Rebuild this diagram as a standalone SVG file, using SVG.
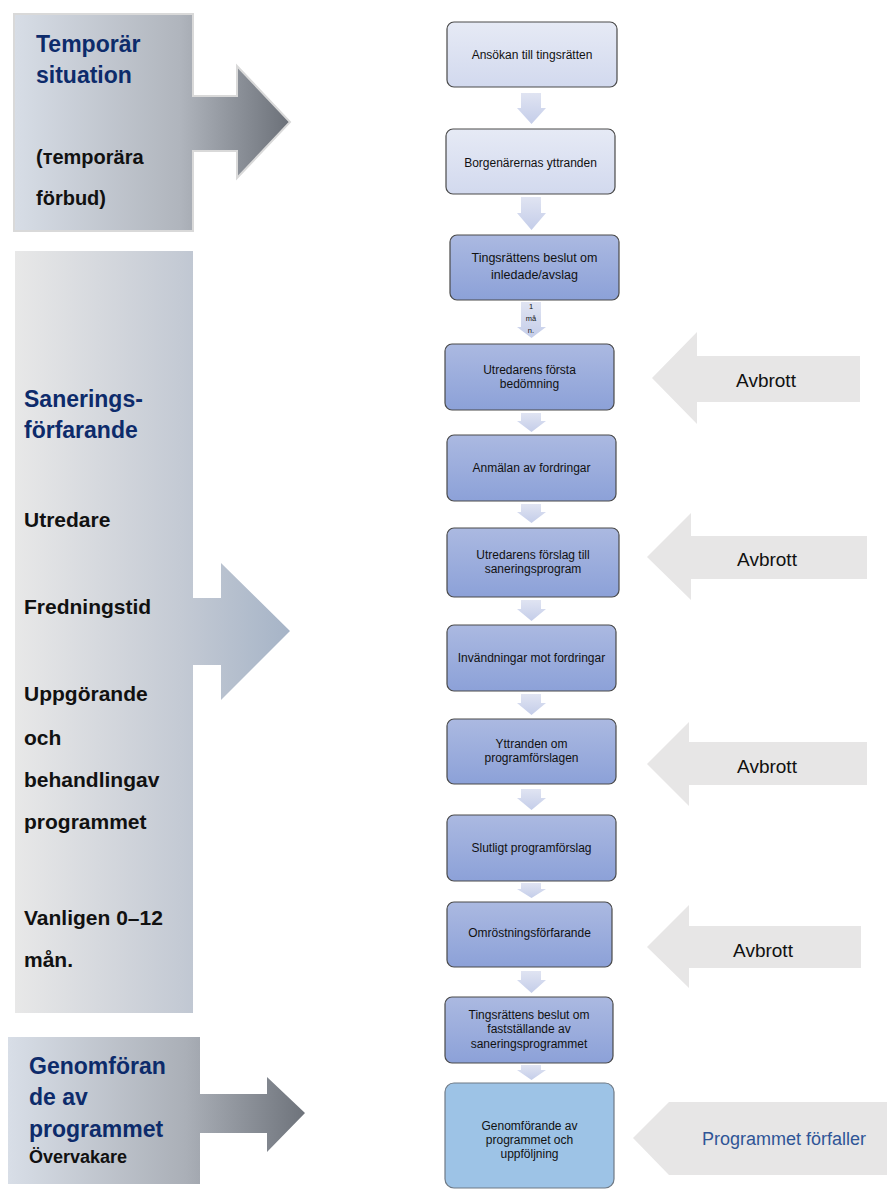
<svg xmlns="http://www.w3.org/2000/svg" width="887" height="1191" viewBox="0 0 887 1191">
<defs>
<linearGradient id="gTemp" x1="0" y1="0" x2="1" y2="0"><stop offset="0" stop-color="#d7dde6"/><stop offset="0.6" stop-color="#b0b5bd"/><stop offset="1" stop-color="#6b7078"/></linearGradient>
<linearGradient id="gSan" x1="0" y1="0" x2="1" y2="0"><stop offset="0" stop-color="#e8e8e8"/><stop offset="0.6" stop-color="#c4cad4"/><stop offset="1" stop-color="#a6b4c7"/></linearGradient>
<linearGradient id="gGen" x1="0" y1="0" x2="1" y2="0"><stop offset="0" stop-color="#d8dee7"/><stop offset="0.6" stop-color="#aaafb7"/><stop offset="1" stop-color="#6e737b"/></linearGradient>
<linearGradient id="gLight" x1="0" y1="0" x2="0" y2="1"><stop offset="0" stop-color="#e6eaf5"/><stop offset="1" stop-color="#d2d9ee"/></linearGradient>
<linearGradient id="gBlue" x1="0" y1="0" x2="0" y2="1"><stop offset="0" stop-color="#abb9e1"/><stop offset="1" stop-color="#8ca1d8"/></linearGradient>
<linearGradient id="gDown" x1="0" y1="0" x2="0" y2="1"><stop offset="0" stop-color="#e0e4f2"/><stop offset="1" stop-color="#c4cde9"/></linearGradient>
</defs>
<style>
.lt{fill:url(#gLight);stroke:#4a4a4a;stroke-width:1.2}
.bl{fill:url(#gBlue);stroke:#4a4a4a;stroke-width:1.2}
.lb{fill:#9dc3e6;stroke:#6f7a86;stroke-width:1.2}
.bt{font-family:"Liberation Sans",Arial,sans-serif;font-size:12px;fill:#111;text-anchor:middle}
.hd{font-family:"Liberation Sans",Arial,sans-serif;font-size:23px;font-weight:bold;fill:#0d2b6b}
.sb{font-family:"Liberation Sans",Arial,sans-serif;font-size:21px;font-weight:bold;fill:#111}
.dn{fill:url(#gDown)}
.ra{fill:#e7e6e6}
.av{font-family:"Liberation Sans",Arial,sans-serif;font-size:19px;fill:#111;text-anchor:middle}
</style>

<g id="phase-temporar">
<path d="M14,14 H193 V96 H237 V66 L290,122 L237,178 V151 H193 V231 H14 Z" fill="url(#gTemp)" stroke="#d9d9d9" stroke-width="2"/>
<text class="hd" x="36" y="52">Temporär</text>
<text class="hd" x="36" y="83">situation</text>
<text class="sb" x="36" y="164" style="font-size:20px">(тemporära</text>
<text class="sb" x="36" y="205" style="font-size:20px">förbud)</text>
</g>

<g id="phase-sanering">
<path d="M15,251 H193 V598 H221 V563 L290,631 L221,700 V665 H193 V1013 H15 Z" fill="url(#gSan)"/>
<text class="hd" x="24" y="407">Sanerings-</text>
<text class="hd" x="24" y="438">förfarande</text>
<text class="sb" x="24" y="527">Utredare</text>
<text class="sb" x="24" y="614">Fredningstid</text>
<text class="sb" x="24" y="701">Uppgörande</text>
<text class="sb" x="24" y="745">och</text>
<text class="sb" x="24" y="787">behandlingav</text>
<text class="sb" x="24" y="829">programmet</text>
<text class="sb" x="24" y="925">Vanligen 0–12</text>
<text class="sb" x="24" y="967">mån.</text>
</g>

<g id="phase-genomforande">
<path d="M8,1037 H200 V1094 H267 V1077 L305,1113 L267,1152 V1133 H200 V1184 H8 Z" fill="url(#gGen)"/>
<text class="hd" x="29" y="1074">Genomföran</text>
<text class="hd" x="29" y="1105">de av</text>
<text class="hd" x="29" y="1137">programmet</text>
<text class="sb" x="29" y="1163" style="font-size:18px">Övervakare</text>
</g>

<g id="n1"><rect class="lt" x="447" y="22" width="170" height="65" rx="7"/><text class="bt" x="532" y="59">Ansökan till tingsrätten</text></g>
<g id="n2"><rect class="lt" x="446" y="129" width="169" height="65" rx="7"/><text class="bt" x="530.5" y="167">Borgenärernas yttranden</text></g>
<g id="n3"><rect class="bl" x="450" y="235" width="169" height="65" rx="7"/><text class="bt" x="534.5" y="262" style="font-size:12.5px">Tingsrättens beslut om</text><text class="bt" x="534.5" y="279" style="font-size:12.5px">inledade/avslag</text></g>
<g id="n4"><rect class="bl" x="445" y="344" width="169" height="66" rx="7"/><text class="bt" x="529.5" y="374">Utredarens första</text><text class="bt" x="529.5" y="388">bedömning</text></g>
<g id="n5"><rect class="bl" x="447" y="435" width="169" height="66" rx="7"/><text class="bt" x="531.5" y="472">Anmälan av fordringar</text></g>
<g id="n6"><rect class="bl" x="447" y="528" width="172" height="69" rx="7"/><text class="bt" x="533" y="559">Utredarens förslag till</text><text class="bt" x="533" y="573">saneringsprogram</text></g>
<g id="n7"><rect class="bl" x="447" y="625" width="169" height="66" rx="7"/><text class="bt" x="531.5" y="662">Invändningar mot fordringar</text></g>
<g id="n8"><rect class="bl" x="447" y="719" width="169" height="65" rx="7"/><text class="bt" x="531.5" y="748">Yttranden om</text><text class="bt" x="531.5" y="762">programförslagen</text></g>
<g id="n9"><rect class="bl" x="447" y="815" width="169" height="66" rx="7"/><text class="bt" x="531.5" y="852">Slutligt programförslag</text></g>
<g id="n10"><rect class="bl" x="447" y="902" width="165" height="65" rx="7"/><text class="bt" x="529.5" y="937">Omröstningsförfarande</text></g>
<g id="n11"><rect class="bl" x="445" y="997" width="168" height="66" rx="7"/><text class="bt" x="529" y="1019">Tingsrättens beslut om</text><text class="bt" x="529" y="1033">fastställande av</text><text class="bt" x="529" y="1048">saneringsprogrammet</text></g>
<g id="n12"><rect class="lb" x="445" y="1083" width="169" height="105" rx="9"/><text class="bt" x="529.5" y="1130">Genomförande av</text><text class="bt" x="529.5" y="1144">programmet och</text><text class="bt" x="529.5" y="1158">uppföljning</text></g>

<g id="connectors">
<path class="dn" d="M521,93 H541 V108 H546 L531.5,124 L517,108 H521 Z"/>
<path class="dn" d="M521,197 H541 V213 H546 L531.5,230 L517,213 H521 Z"/>
<path class="dn" d="M521,302 H541 V327 H546 L531.5,338 L517,327 H521 Z"/>
<text x="531" y="309" style="font-family:'Liberation Sans',Arial,sans-serif;font-size:7.5px;fill:#111;text-anchor:middle">1</text>
<text x="531" y="321" style="font-family:'Liberation Sans',Arial,sans-serif;font-size:7.5px;fill:#111;text-anchor:middle">må</text>
<text x="531" y="333" style="font-family:'Liberation Sans',Arial,sans-serif;font-size:7.5px;fill:#111;text-anchor:middle">n.</text>
<path class="dn" d="M521,413 H541 V421 H546 L531.5,432 L517,421 H521 Z"/>
<path class="dn" d="M521,504 H541 V512 H546 L531.5,523 L517,512 H521 Z"/>
<path class="dn" d="M521,600 H541 V609 H546 L531.5,621 L517,609 H521 Z"/>
<path class="dn" d="M521,694 H541 V703 H546 L531.5,715 L517,703 H521 Z"/>
<path class="dn" d="M521,789 H541 V798 H546 L531.5,810 L517,798 H521 Z"/>
<path class="dn" d="M521,883 H541 V889 H546 L531.5,898 L517,889 H521 Z"/>
<path class="dn" d="M521,971 H541 V980 H546 L531.5,993 L517,980 H521 Z"/>
<path class="dn" d="M521,1065 H541 V1070 H546 L531.5,1080 L517,1070 H521 Z"/>
</g>

<g id="avbrott1"><path class="ra" d="M652,378 L697,332 V356 H860 V402 H697 V424 Z"/><text class="av" x="766" y="387">Avbrott</text></g>
<g id="avbrott2"><path class="ra" d="M647,557 L691,513 V536 H867 V579 H691 V600 Z"/><text class="av" x="767" y="566">Avbrott</text></g>
<g id="avbrott3"><path class="ra" d="M647,764 L689,722 V742 H867 V785 H689 V806 Z"/><text class="av" x="767" y="773">Avbrott</text></g>
<g id="avbrott4"><path class="ra" d="M647,947 L689,905 V926 H861 V968 H689 V988 Z"/><text class="av" x="763" y="957">Avbrott</text></g>
<g id="forfaller"><path class="ra" d="M633,1138 L669,1102 H887 V1175 H669 Z"/><text x="784" y="1145" style="font-family:'Liberation Sans',Arial,sans-serif;font-size:18px;fill:#2f5597;text-anchor:middle">Programmet förfaller</text></g>
</svg>
